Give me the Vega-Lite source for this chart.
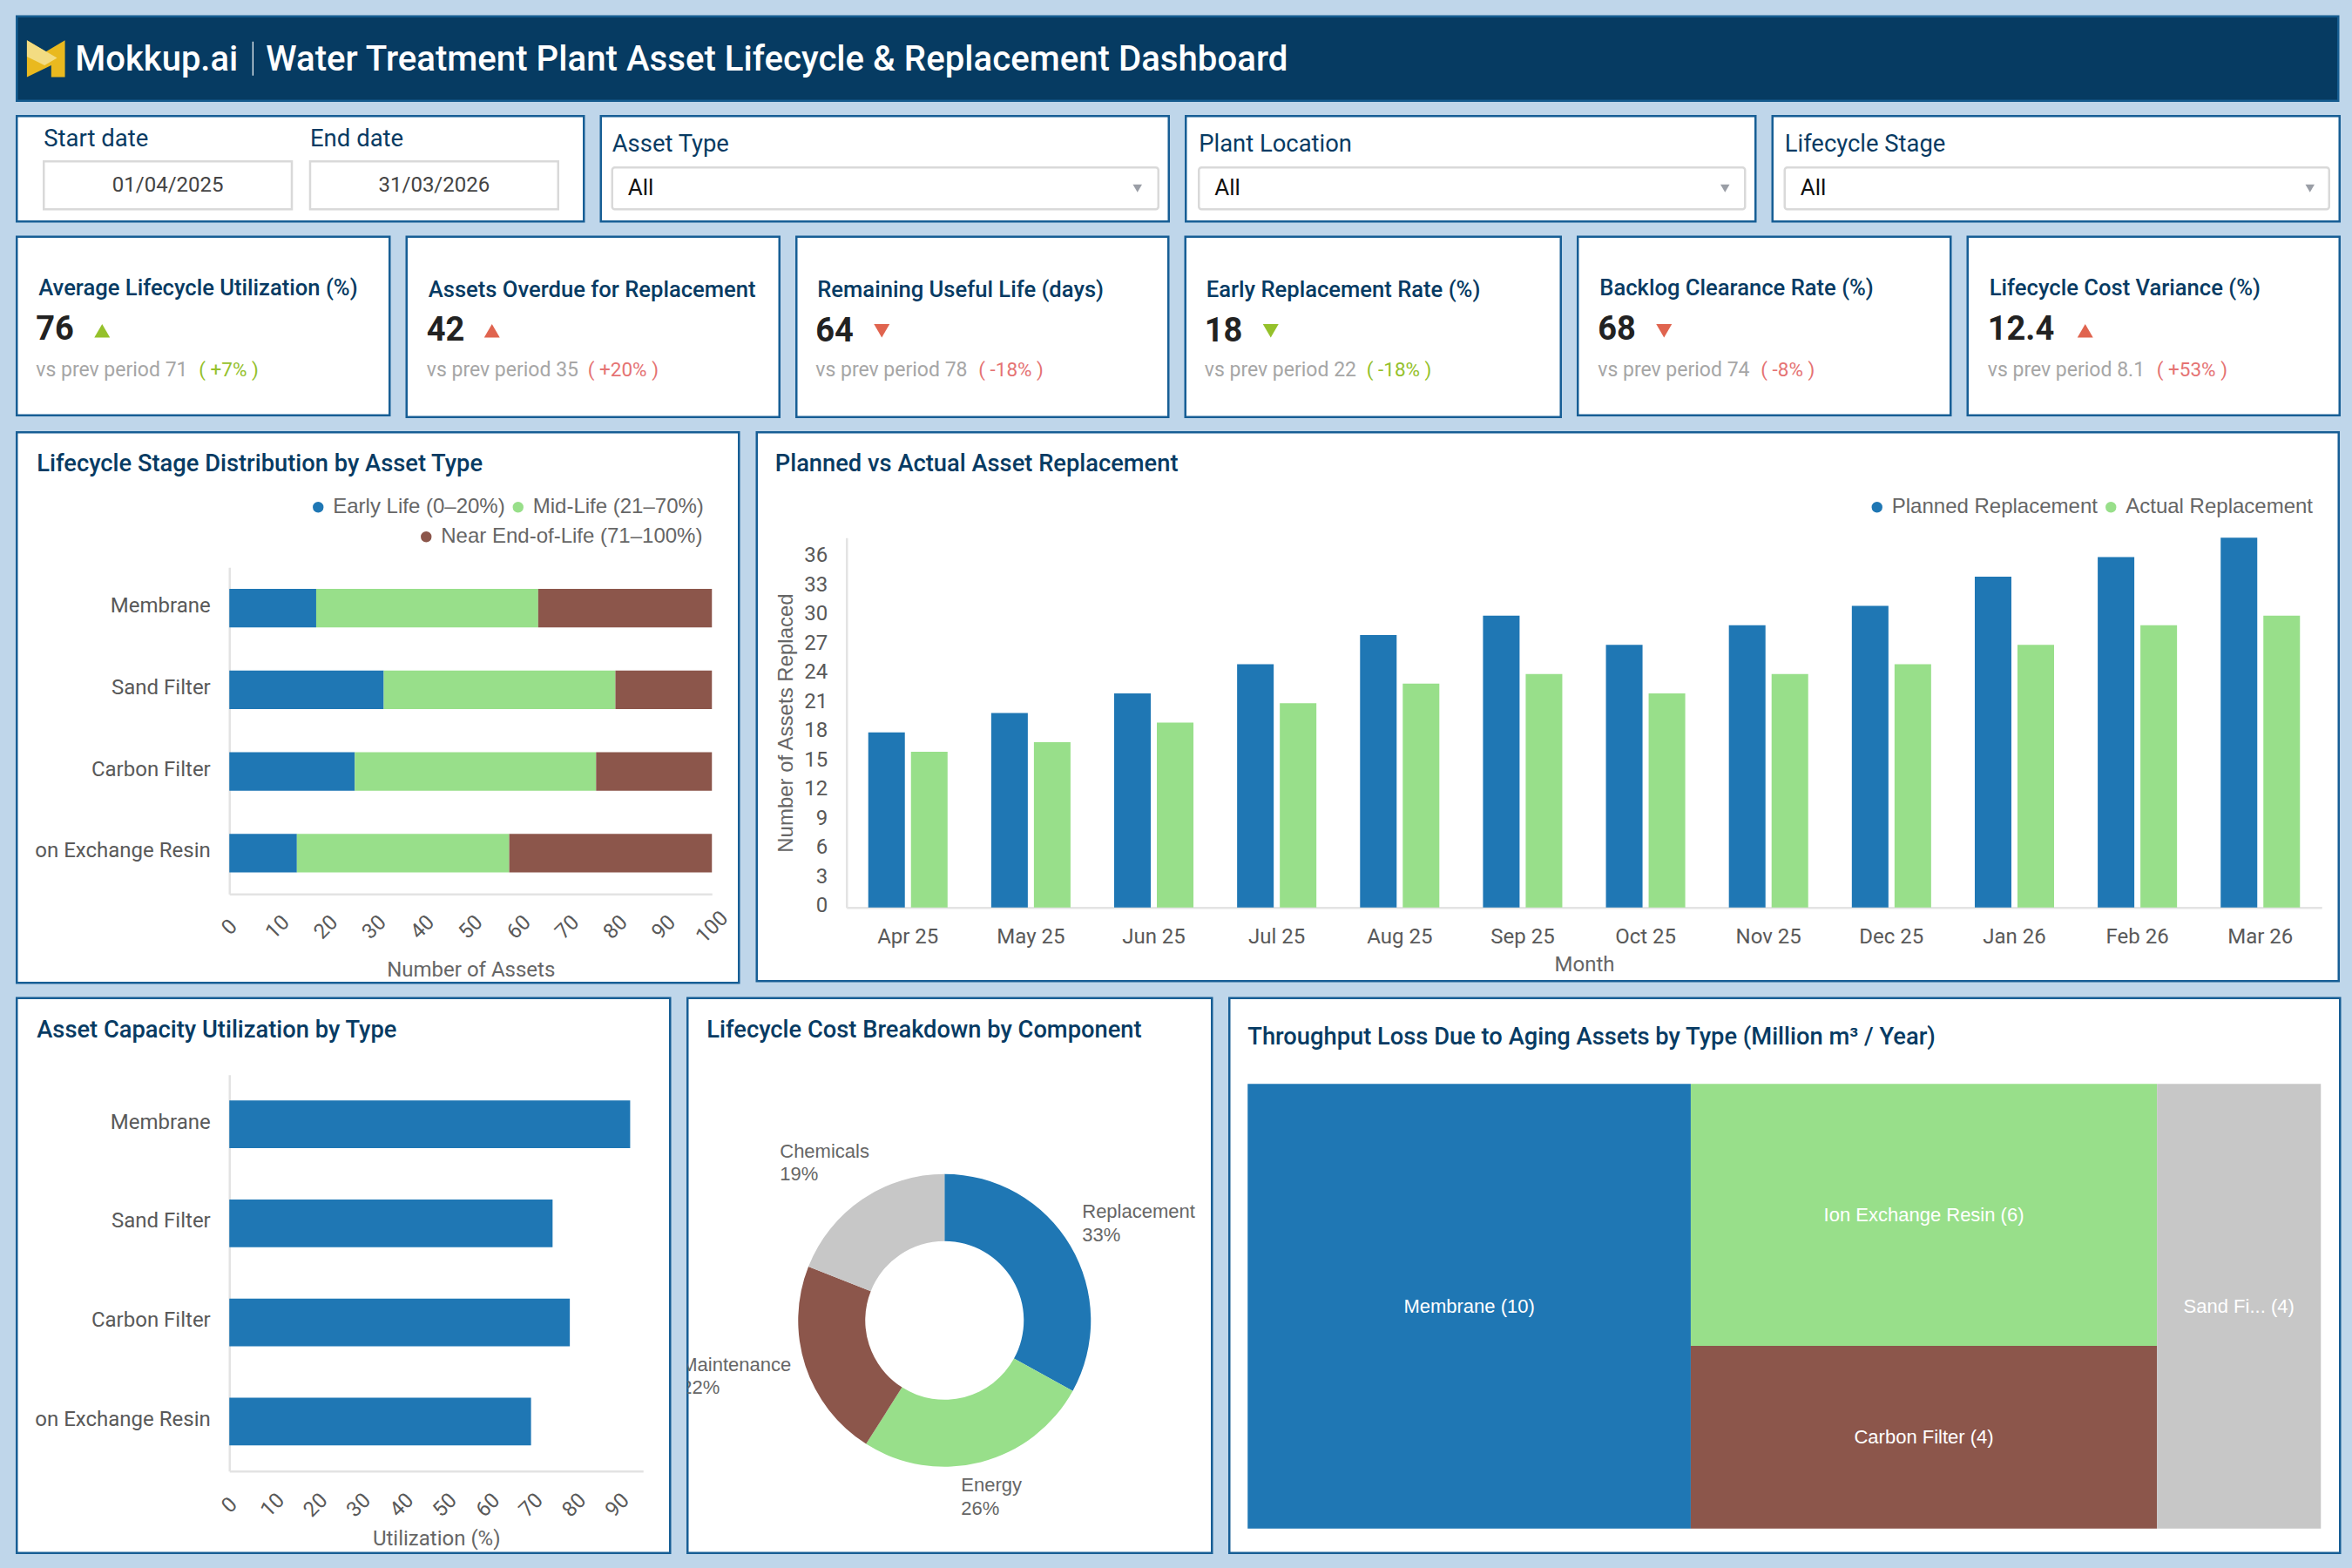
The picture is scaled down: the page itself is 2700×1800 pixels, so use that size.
{
  "$schema": "https://vega.github.io/schema/vega-lite/v6.json",
  "background": "#bfd6ea",
  "padding": {"left": 17.25, "top": 16.75, "right": 12.25, "bottom": 16.5},
  "config": {
    "view": {"fill": "#ffffff", "stroke": "#175e95", "strokeWidth": 2.5},
    "axis": {"grid": false, "ticks": false, "tickSize": 0, "domainColor": "#e3e3e3", "domainWidth": 2.5, "labelFont": "Roboto", "labelFontSize": 24, "labelColor": "#595959", "titleFont": "Roboto", "titleFontSize": 24, "titleFontWeight": "normal", "titleColor": "#666666"},
    "title": {"font": "Roboto", "fontSize": 27.3, "fontWeight": 500, "color": "#073b63", "anchor": "start", "frame": "group", "baseline": "middle"},
    "legend": {"orient": "none", "direction": "horizontal", "title": null, "symbolType": "circle", "symbolSize": 154, "labelFont": "Liberation Sans", "labelFontSize": 24, "labelColor": "#666666", "labelOffset": 5, "labelLimit": 500, "columnPadding": 2.5, "padding": 0}
  },
  "spacing": 13.5,
  "resolve": {"scale": {"color": "independent"}, "legend": {"color": "independent"}},
  "vconcat": [
    {
      "width": 2665,
      "height": 97,
      "view": {"fill": "#063b62", "stroke": "#155c90", "strokeWidth": 2.5},
      "data": {"values": [{"brand": "Mokkup.ai", "report": "Water Treatment Plant Asset Lifecycle & Replacement Dashboard"}]},
      "resolve": {"scale": {"x": "independent", "y": "independent"}},
      "layer": [
        {
          "mark": {"type": "point", "filled": true, "opacity": 1, "color": "#e9b91f", "size": 2025, "shape": "M-0.97,-0.93L0,-0.36L0.97,-0.93L0.97,0.94L0.27,0.94L0.27,0.34L-0.97,0.94Z"},
          "encoding": {
            "x": {"field": "brand", "type": "nominal", "axis": null, "scale": {"type": "point", "range": [33.5, 33.5]}},
            "y": {"field": "brand", "type": "nominal", "axis": null, "scale": {"type": "point", "range": [48.5, 48.5]}}
          }
        },
        {
          "mark": {"type": "point", "filled": true, "opacity": 1, "color": "#f3dc82", "size": 2025, "shape": "M-0.97,-0.93L0.57,-0.03L-0.07,0.34L-0.97,-0.1Z"},
          "encoding": {
            "x": {"field": "brand", "type": "nominal", "axis": null, "scale": {"type": "point", "range": [33.5, 33.5]}},
            "y": {"field": "brand", "type": "nominal", "axis": null, "scale": {"type": "point", "range": [48.5, 48.5]}}
          }
        },
        {
          "mark": {"type": "text", "align": "left", "baseline": "middle", "font": "Roboto", "fontSize": 40, "fontWeight": 500, "color": "#ffffff"},
          "encoding": {
            "x": {"field": "brand", "type": "nominal", "axis": null, "scale": {"type": "point", "range": [67, 67]}},
            "y": {"field": "brand", "type": "nominal", "axis": null, "scale": {"type": "point", "range": [50, 50]}},
            "text": {"field": "brand"}
          }
        },
        {
          "mark": {"type": "rect", "color": "#ffffff"},
          "encoding": {
            "x": {"field": "brand", "type": "nominal", "axis": null, "scale": {"type": "band", "padding": 0, "range": [270.5, 271.7]}},
            "y": {"field": "brand", "type": "nominal", "axis": null, "scale": {"type": "band", "padding": 0, "range": [29, 68]}}
          }
        },
        {
          "mark": {"type": "text", "align": "left", "baseline": "middle", "font": "Roboto", "fontSize": 40.2, "fontWeight": 500, "color": "#ffffff"},
          "encoding": {
            "x": {"field": "report", "type": "nominal", "axis": null, "scale": {"type": "point", "range": [286, 286]}},
            "y": {"field": "report", "type": "nominal", "axis": null, "scale": {"type": "point", "range": [50, 50]}},
            "text": {"field": "report"}
          }
        }
      ]
    },
    {
      "spacing": 15.5,
      "hconcat": [
        {
          "width": 651,
          "height": 121,
          "data": {"values": [
            {"control": "Start date", "date": "01/04/2025", "box": "date"},
            {"control": "End date", "date": "31/03/2026", "box": "date"}
          ]},
          "encoding": {
            "x": {"field": "control", "type": "nominal", "axis": null, "sort": null, "scale": {"type": "band", "paddingInner": 0.0686, "paddingOuter": 0, "range": [31, 621.5]}}
          },
          "resolve": {"scale": {"y": "independent"}},
          "layer": [
            {
              "mark": {"type": "rect", "fill": "#ffffff", "stroke": "#d9d9d9", "strokeWidth": 2.5},
              "encoding": {"y": {"field": "box", "type": "nominal", "axis": null, "scale": {"type": "band", "padding": 0, "range": [52, 107]}}}
            },
            {
              "mark": {"type": "text", "baseline": "middle", "font": "Roboto", "fontSize": 24, "color": "#444444"},
              "encoding": {
                "y": {"field": "box", "type": "nominal", "axis": null, "scale": {"type": "point", "range": [80, 80]}},
                "text": {"field": "date"}
              }
            },
            {
              "mark": {"type": "text", "align": "left", "baseline": "middle", "font": "Roboto", "fontSize": 27.5, "color": "#073b63"},
              "encoding": {
                "x": {"field": "control", "type": "nominal", "bandPosition": 0},
                "y": {"field": "box", "type": "nominal", "axis": null, "scale": {"type": "point", "range": [27, 27]}},
                "text": {"field": "control"}
              }
            }
          ]
        },
        {
          "width": 652,
          "height": 121,
          "data": {"values": [{"control": "Asset Type", "selected": "All"}]},
          "resolve": {"scale": {"x": "independent", "y": "independent"}},
          "layer": [
            {
              "mark": {"type": "rect", "fill": "#ffffff", "stroke": "#d9d9d9", "strokeWidth": 2.5, "cornerRadius": 3},
              "encoding": {
                "x": {"field": "control", "type": "nominal", "axis": null, "scale": {"type": "band", "padding": 0, "range": [13, 640]}},
                "y": {"field": "control", "type": "nominal", "axis": null, "scale": {"type": "band", "padding": 0, "range": [59, 107]}}
              }
            },
            {
              "mark": {"type": "text", "align": "left", "baseline": "middle", "font": "Roboto", "fontSize": 27.4, "color": "#073b63"},
              "encoding": {
                "x": {"field": "control", "type": "nominal", "axis": null, "scale": {"type": "point", "range": [13, 13]}},
                "y": {"field": "control", "type": "nominal", "axis": null, "scale": {"type": "point", "range": [33, 33]}},
                "text": {"field": "control"}
              }
            },
            {
              "mark": {"type": "text", "align": "left", "baseline": "middle", "font": "Roboto", "fontSize": 26, "color": "#111111"},
              "encoding": {
                "x": {"field": "control", "type": "nominal", "axis": null, "scale": {"type": "point", "range": [31, 31]}},
                "y": {"field": "control", "type": "nominal", "axis": null, "scale": {"type": "point", "range": [83, 83]}},
                "text": {"field": "selected"}
              }
            },
            {
              "mark": {"type": "point", "filled": true, "opacity": 1, "shape": "triangle-down", "size": 110, "color": "#9a9ea6"},
              "encoding": {
                "x": {"field": "control", "type": "nominal", "axis": null, "scale": {"type": "point", "range": [616, 616]}},
                "y": {"field": "control", "type": "nominal", "axis": null, "scale": {"type": "point", "range": [83, 83]}}
              }
            }
          ]
        },
        {
          "width": 654,
          "height": 121,
          "data": {"values": [{"control": "Plant Location", "selected": "All"}]},
          "resolve": {"scale": {"x": "independent", "y": "independent"}},
          "layer": [
            {
              "mark": {"type": "rect", "fill": "#ffffff", "stroke": "#d9d9d9", "strokeWidth": 2.5, "cornerRadius": 3},
              "encoding": {
                "x": {"field": "control", "type": "nominal", "axis": null, "scale": {"type": "band", "padding": 0, "range": [15, 642]}},
                "y": {"field": "control", "type": "nominal", "axis": null, "scale": {"type": "band", "padding": 0, "range": [59, 107]}}
              }
            },
            {
              "mark": {"type": "text", "align": "left", "baseline": "middle", "font": "Roboto", "fontSize": 27.4, "color": "#073b63"},
              "encoding": {
                "x": {"field": "control", "type": "nominal", "axis": null, "scale": {"type": "point", "range": [15, 15]}},
                "y": {"field": "control", "type": "nominal", "axis": null, "scale": {"type": "point", "range": [33, 33]}},
                "text": {"field": "control"}
              }
            },
            {
              "mark": {"type": "text", "align": "left", "baseline": "middle", "font": "Roboto", "fontSize": 26, "color": "#111111"},
              "encoding": {
                "x": {"field": "control", "type": "nominal", "axis": null, "scale": {"type": "point", "range": [33, 33]}},
                "y": {"field": "control", "type": "nominal", "axis": null, "scale": {"type": "point", "range": [83, 83]}},
                "text": {"field": "selected"}
              }
            },
            {
              "mark": {"type": "point", "filled": true, "opacity": 1, "shape": "triangle-down", "size": 110, "color": "#9a9ea6"},
              "encoding": {
                "x": {"field": "control", "type": "nominal", "axis": null, "scale": {"type": "point", "range": [619, 619]}},
                "y": {"field": "control", "type": "nominal", "axis": null, "scale": {"type": "point", "range": [83, 83]}}
              }
            }
          ]
        },
        {
          "width": 651,
          "height": 121,
          "data": {"values": [{"control": "Lifecycle Stage", "selected": "All"}]},
          "resolve": {"scale": {"x": "independent", "y": "independent"}},
          "layer": [
            {
              "mark": {"type": "rect", "fill": "#ffffff", "stroke": "#d9d9d9", "strokeWidth": 2.5, "cornerRadius": 3},
              "encoding": {
                "x": {"field": "control", "type": "nominal", "axis": null, "scale": {"type": "band", "padding": 0, "range": [14, 639]}},
                "y": {"field": "control", "type": "nominal", "axis": null, "scale": {"type": "band", "padding": 0, "range": [59, 107]}}
              }
            },
            {
              "mark": {"type": "text", "align": "left", "baseline": "middle", "font": "Roboto", "fontSize": 27.4, "color": "#073b63"},
              "encoding": {
                "x": {"field": "control", "type": "nominal", "axis": null, "scale": {"type": "point", "range": [14, 14]}},
                "y": {"field": "control", "type": "nominal", "axis": null, "scale": {"type": "point", "range": [33, 33]}},
                "text": {"field": "control"}
              }
            },
            {
              "mark": {"type": "text", "align": "left", "baseline": "middle", "font": "Roboto", "fontSize": 26, "color": "#111111"},
              "encoding": {
                "x": {"field": "control", "type": "nominal", "axis": null, "scale": {"type": "point", "range": [32, 32]}},
                "y": {"field": "control", "type": "nominal", "axis": null, "scale": {"type": "point", "range": [83, 83]}},
                "text": {"field": "selected"}
              }
            },
            {
              "mark": {"type": "point", "filled": true, "opacity": 1, "shape": "triangle-down", "size": 110, "color": "#9a9ea6"},
              "encoding": {
                "x": {"field": "control", "type": "nominal", "axis": null, "scale": {"type": "point", "range": [617, 617]}},
                "y": {"field": "control", "type": "nominal", "axis": null, "scale": {"type": "point", "range": [83, 83]}}
              }
            }
          ]
        }
      ]
    },
    {
      "spacing": 15.5,
      "hconcat": [
        {
          "width": 428,
          "height": 205,
          "data": {"values": [{"kpi": "Average Lifecycle Utilization (%)", "value": "76", "previous": "vs prev period 71", "delta": "( +7% )"}]},
          "resolve": {"scale": {"x": "independent", "y": "independent"}},
          "layer": [
            {"mark": {"type": "text", "align": "left", "baseline": "middle", "font": "Roboto", "fontSize": 25.6, "fontWeight": 500, "color": "#073b63"}, "encoding": {"x": {"field": "kpi", "type": "nominal", "axis": null, "scale": {"type": "point", "range": [25, 25]}}, "y": {"field": "kpi", "type": "nominal", "axis": null, "scale": {"type": "point", "range": [59, 59]}}, "text": {"field": "kpi"}}},
            {"mark": {"type": "text", "align": "left", "baseline": "middle", "font": "Roboto", "fontSize": 38, "fontWeight": 700, "color": "#222222"}, "encoding": {"x": {"field": "kpi", "type": "nominal", "axis": null, "scale": {"type": "point", "range": [22, 22]}}, "y": {"field": "kpi", "type": "nominal", "axis": null, "scale": {"type": "point", "range": [107, 107]}}, "text": {"field": "value"}}},
            {"mark": {"type": "point", "filled": true, "opacity": 1, "shape": "triangle-up", "size": 324, "color": "#95c12b"}, "encoding": {"x": {"field": "kpi", "type": "nominal", "axis": null, "scale": {"type": "point", "range": [98, 98]}}, "y": {"field": "kpi", "type": "nominal", "axis": null, "scale": {"type": "point", "range": [108, 108]}}}},
            {"mark": {"type": "text", "align": "left", "baseline": "middle", "font": "Roboto", "fontSize": 23, "color": "#a6a6a6"}, "encoding": {"x": {"field": "kpi", "type": "nominal", "axis": null, "scale": {"type": "point", "range": [22, 22]}}, "y": {"field": "kpi", "type": "nominal", "axis": null, "scale": {"type": "point", "range": [153, 153]}}, "text": {"field": "previous"}}},
            {"mark": {"type": "text", "align": "left", "baseline": "middle", "font": "Roboto", "fontSize": 22.5, "color": "#95c12b"}, "encoding": {"x": {"field": "kpi", "type": "nominal", "axis": null, "scale": {"type": "point", "range": [209, 209]}}, "y": {"field": "kpi", "type": "nominal", "axis": null, "scale": {"type": "point", "range": [153, 153]}}, "text": {"field": "delta"}}}
          ]
        },
        {
          "width": 428,
          "height": 207,
          "data": {"values": [{"kpi": "Assets Overdue for Replacement", "value": "42", "previous": "vs prev period 35", "delta": "( +20% )"}]},
          "resolve": {"scale": {"x": "independent", "y": "independent"}},
          "layer": [
            {"mark": {"type": "text", "align": "left", "baseline": "middle", "font": "Roboto", "fontSize": 25.6, "fontWeight": 500, "color": "#073b63"}, "encoding": {"x": {"field": "kpi", "type": "nominal", "axis": null, "scale": {"type": "point", "range": [25, 25]}}, "y": {"field": "kpi", "type": "nominal", "axis": null, "scale": {"type": "point", "range": [61, 61]}}, "text": {"field": "kpi"}}},
            {"mark": {"type": "text", "align": "left", "baseline": "middle", "font": "Roboto", "fontSize": 38, "fontWeight": 700, "color": "#222222"}, "encoding": {"x": {"field": "kpi", "type": "nominal", "axis": null, "scale": {"type": "point", "range": [23, 23]}}, "y": {"field": "kpi", "type": "nominal", "axis": null, "scale": {"type": "point", "range": [108, 108]}}, "text": {"field": "value"}}},
            {"mark": {"type": "point", "filled": true, "opacity": 1, "shape": "triangle-up", "size": 324, "color": "#e0644f"}, "encoding": {"x": {"field": "kpi", "type": "nominal", "axis": null, "scale": {"type": "point", "range": [98, 98]}}, "y": {"field": "kpi", "type": "nominal", "axis": null, "scale": {"type": "point", "range": [108, 108]}}}},
            {"mark": {"type": "text", "align": "left", "baseline": "middle", "font": "Roboto", "fontSize": 23, "color": "#a6a6a6"}, "encoding": {"x": {"field": "kpi", "type": "nominal", "axis": null, "scale": {"type": "point", "range": [23, 23]}}, "y": {"field": "kpi", "type": "nominal", "axis": null, "scale": {"type": "point", "range": [153, 153]}}, "text": {"field": "previous"}}},
            {"mark": {"type": "text", "align": "left", "baseline": "middle", "font": "Roboto", "fontSize": 22.5, "color": "#e57373"}, "encoding": {"x": {"field": "kpi", "type": "nominal", "axis": null, "scale": {"type": "point", "range": [208, 208]}}, "y": {"field": "kpi", "type": "nominal", "axis": null, "scale": {"type": "point", "range": [153, 153]}}, "text": {"field": "delta"}}}
          ]
        },
        {
          "width": 427,
          "height": 207,
          "data": {"values": [{"kpi": "Remaining Useful Life (days)", "value": "64", "previous": "vs prev period 78", "delta": "( -18% )"}]},
          "resolve": {"scale": {"x": "independent", "y": "independent"}},
          "layer": [
            {"mark": {"type": "text", "align": "left", "baseline": "middle", "font": "Roboto", "fontSize": 25.6, "fontWeight": 500, "color": "#073b63"}, "encoding": {"x": {"field": "kpi", "type": "nominal", "axis": null, "scale": {"type": "point", "range": [24, 24]}}, "y": {"field": "kpi", "type": "nominal", "axis": null, "scale": {"type": "point", "range": [61, 61]}}, "text": {"field": "kpi"}}},
            {"mark": {"type": "text", "align": "left", "baseline": "middle", "font": "Roboto", "fontSize": 38, "fontWeight": 700, "color": "#222222"}, "encoding": {"x": {"field": "kpi", "type": "nominal", "axis": null, "scale": {"type": "point", "range": [22, 22]}}, "y": {"field": "kpi", "type": "nominal", "axis": null, "scale": {"type": "point", "range": [109, 109]}}, "text": {"field": "value"}}},
            {"mark": {"type": "point", "filled": true, "opacity": 1, "shape": "triangle-down", "size": 324, "color": "#e0644f"}, "encoding": {"x": {"field": "kpi", "type": "nominal", "axis": null, "scale": {"type": "point", "range": [98, 98]}}, "y": {"field": "kpi", "type": "nominal", "axis": null, "scale": {"type": "point", "range": [108, 108]}}}},
            {"mark": {"type": "text", "align": "left", "baseline": "middle", "font": "Roboto", "fontSize": 23, "color": "#a6a6a6"}, "encoding": {"x": {"field": "kpi", "type": "nominal", "axis": null, "scale": {"type": "point", "range": [22, 22]}}, "y": {"field": "kpi", "type": "nominal", "axis": null, "scale": {"type": "point", "range": [153, 153]}}, "text": {"field": "previous"}}},
            {"mark": {"type": "text", "align": "left", "baseline": "middle", "font": "Roboto", "fontSize": 22.5, "color": "#e57373"}, "encoding": {"x": {"field": "kpi", "type": "nominal", "axis": null, "scale": {"type": "point", "range": [209, 209]}}, "y": {"field": "kpi", "type": "nominal", "axis": null, "scale": {"type": "point", "range": [153, 153]}}, "text": {"field": "delta"}}}
          ]
        },
        {
          "width": 431,
          "height": 207,
          "data": {"values": [{"kpi": "Early Replacement Rate (%)", "value": "18", "previous": "vs prev period 22", "delta": "( -18% )"}]},
          "resolve": {"scale": {"x": "independent", "y": "independent"}},
          "layer": [
            {"mark": {"type": "text", "align": "left", "baseline": "middle", "font": "Roboto", "fontSize": 25.6, "fontWeight": 500, "color": "#073b63"}, "encoding": {"x": {"field": "kpi", "type": "nominal", "axis": null, "scale": {"type": "point", "range": [24, 24]}}, "y": {"field": "kpi", "type": "nominal", "axis": null, "scale": {"type": "point", "range": [61, 61]}}, "text": {"field": "kpi"}}},
            {"mark": {"type": "text", "align": "left", "baseline": "middle", "font": "Roboto", "fontSize": 38, "fontWeight": 700, "color": "#222222"}, "encoding": {"x": {"field": "kpi", "type": "nominal", "axis": null, "scale": {"type": "point", "range": [22, 22]}}, "y": {"field": "kpi", "type": "nominal", "axis": null, "scale": {"type": "point", "range": [109, 109]}}, "text": {"field": "value"}}},
            {"mark": {"type": "point", "filled": true, "opacity": 1, "shape": "triangle-down", "size": 324, "color": "#95c12b"}, "encoding": {"x": {"field": "kpi", "type": "nominal", "axis": null, "scale": {"type": "point", "range": [98, 98]}}, "y": {"field": "kpi", "type": "nominal", "axis": null, "scale": {"type": "point", "range": [108, 108]}}}},
            {"mark": {"type": "text", "align": "left", "baseline": "middle", "font": "Roboto", "fontSize": 23, "color": "#a6a6a6"}, "encoding": {"x": {"field": "kpi", "type": "nominal", "axis": null, "scale": {"type": "point", "range": [22, 22]}}, "y": {"field": "kpi", "type": "nominal", "axis": null, "scale": {"type": "point", "range": [153, 153]}}, "text": {"field": "previous"}}},
            {"mark": {"type": "text", "align": "left", "baseline": "middle", "font": "Roboto", "fontSize": 22.5, "color": "#95c12b"}, "encoding": {"x": {"field": "kpi", "type": "nominal", "axis": null, "scale": {"type": "point", "range": [208, 208]}}, "y": {"field": "kpi", "type": "nominal", "axis": null, "scale": {"type": "point", "range": [153, 153]}}, "text": {"field": "delta"}}}
          ]
        },
        {
          "width": 428,
          "height": 205,
          "data": {"values": [{"kpi": "Backlog Clearance Rate (%)", "value": "68", "previous": "vs prev period 74", "delta": "( -8% )"}]},
          "resolve": {"scale": {"x": "independent", "y": "independent"}},
          "layer": [
            {"mark": {"type": "text", "align": "left", "baseline": "middle", "font": "Roboto", "fontSize": 25.6, "fontWeight": 500, "color": "#073b63"}, "encoding": {"x": {"field": "kpi", "type": "nominal", "axis": null, "scale": {"type": "point", "range": [25, 25]}}, "y": {"field": "kpi", "type": "nominal", "axis": null, "scale": {"type": "point", "range": [59, 59]}}, "text": {"field": "kpi"}}},
            {"mark": {"type": "text", "align": "left", "baseline": "middle", "font": "Roboto", "fontSize": 38, "fontWeight": 700, "color": "#222222"}, "encoding": {"x": {"field": "kpi", "type": "nominal", "axis": null, "scale": {"type": "point", "range": [23, 23]}}, "y": {"field": "kpi", "type": "nominal", "axis": null, "scale": {"type": "point", "range": [107, 107]}}, "text": {"field": "value"}}},
            {"mark": {"type": "point", "filled": true, "opacity": 1, "shape": "triangle-down", "size": 324, "color": "#e0644f"}, "encoding": {"x": {"field": "kpi", "type": "nominal", "axis": null, "scale": {"type": "point", "range": [99, 99]}}, "y": {"field": "kpi", "type": "nominal", "axis": null, "scale": {"type": "point", "range": [108, 108]}}}},
            {"mark": {"type": "text", "align": "left", "baseline": "middle", "font": "Roboto", "fontSize": 23, "color": "#a6a6a6"}, "encoding": {"x": {"field": "kpi", "type": "nominal", "axis": null, "scale": {"type": "point", "range": [23, 23]}}, "y": {"field": "kpi", "type": "nominal", "axis": null, "scale": {"type": "point", "range": [153, 153]}}, "text": {"field": "previous"}}},
            {"mark": {"type": "text", "align": "left", "baseline": "middle", "font": "Roboto", "fontSize": 22.5, "color": "#e57373"}, "encoding": {"x": {"field": "kpi", "type": "nominal", "axis": null, "scale": {"type": "point", "range": [210, 210]}}, "y": {"field": "kpi", "type": "nominal", "axis": null, "scale": {"type": "point", "range": [153, 153]}}, "text": {"field": "delta"}}}
          ]
        },
        {
          "width": 427,
          "height": 205,
          "data": {"values": [{"kpi": "Lifecycle Cost Variance (%)", "value": "12.4", "previous": "vs prev period 8.1", "delta": "( +53% )"}]},
          "resolve": {"scale": {"x": "independent", "y": "independent"}},
          "layer": [
            {"mark": {"type": "text", "align": "left", "baseline": "middle", "font": "Roboto", "fontSize": 25.6, "fontWeight": 500, "color": "#073b63"}, "encoding": {"x": {"field": "kpi", "type": "nominal", "axis": null, "scale": {"type": "point", "range": [25, 25]}}, "y": {"field": "kpi", "type": "nominal", "axis": null, "scale": {"type": "point", "range": [59, 59]}}, "text": {"field": "kpi"}}},
            {"mark": {"type": "text", "align": "left", "baseline": "middle", "font": "Roboto", "fontSize": 38, "fontWeight": 700, "color": "#222222"}, "encoding": {"x": {"field": "kpi", "type": "nominal", "axis": null, "scale": {"type": "point", "range": [23, 23]}}, "y": {"field": "kpi", "type": "nominal", "axis": null, "scale": {"type": "point", "range": [107, 107]}}, "text": {"field": "value"}}},
            {"mark": {"type": "point", "filled": true, "opacity": 1, "shape": "triangle-up", "size": 324, "color": "#e0644f"}, "encoding": {"x": {"field": "kpi", "type": "nominal", "axis": null, "scale": {"type": "point", "range": [135, 135]}}, "y": {"field": "kpi", "type": "nominal", "axis": null, "scale": {"type": "point", "range": [108, 108]}}}},
            {"mark": {"type": "text", "align": "left", "baseline": "middle", "font": "Roboto", "fontSize": 23, "color": "#a6a6a6"}, "encoding": {"x": {"field": "kpi", "type": "nominal", "axis": null, "scale": {"type": "point", "range": [23, 23]}}, "y": {"field": "kpi", "type": "nominal", "axis": null, "scale": {"type": "point", "range": [153, 153]}}, "text": {"field": "previous"}}},
            {"mark": {"type": "text", "align": "left", "baseline": "middle", "font": "Roboto", "fontSize": 22.5, "color": "#e57373"}, "encoding": {"x": {"field": "kpi", "type": "nominal", "axis": null, "scale": {"type": "point", "range": [217, 217]}}, "y": {"field": "kpi", "type": "nominal", "axis": null, "scale": {"type": "point", "range": [153, 153]}}, "text": {"field": "delta"}}}
          ]
        }
      ]
    },
    {
      "spacing": 16.5,
      "resolve": {"scale": {"color": "independent"}, "legend": {"color": "independent"}},
      "hconcat": [
        {
          "width": 829,
          "height": 632,
          "title": {"text": "Lifecycle Stage Distribution by Asset Type", "offset": -50, "dx": 23},
          "data": {"values": [
            {"asset": "Membrane", "stage": "Early Life (0–20%)", "rank": 1, "assets": 18},
            {"asset": "Membrane", "stage": "Mid-Life (21–70%)", "rank": 2, "assets": 46},
            {"asset": "Membrane", "stage": "Near End-of-Life (71–100%)", "rank": 3, "assets": 36},
            {"asset": "Sand Filter", "stage": "Early Life (0–20%)", "rank": 1, "assets": 32},
            {"asset": "Sand Filter", "stage": "Mid-Life (21–70%)", "rank": 2, "assets": 48},
            {"asset": "Sand Filter", "stage": "Near End-of-Life (71–100%)", "rank": 3, "assets": 20},
            {"asset": "Carbon Filter", "stage": "Early Life (0–20%)", "rank": 1, "assets": 26},
            {"asset": "Carbon Filter", "stage": "Mid-Life (21–70%)", "rank": 2, "assets": 50},
            {"asset": "Carbon Filter", "stage": "Near End-of-Life (71–100%)", "rank": 3, "assets": 24},
            {"asset": "Ion Exchange Resin", "stage": "Early Life (0–20%)", "rank": 1, "assets": 14},
            {"asset": "Ion Exchange Resin", "stage": "Mid-Life (21–70%)", "rank": 2, "assets": 44},
            {"asset": "Ion Exchange Resin", "stage": "Near End-of-Life (71–100%)", "rank": 3, "assets": 42}
          ]},
          "transform": [{"stack": "assets", "groupby": ["asset"], "sort": [{"field": "rank", "order": "ascending"}], "as": ["start", "end"]}],
          "encoding": {
            "x": {"field": "start", "type": "quantitative", "scale": {"domain": [0, 100], "nice": false, "range": [244, 798]}, "axis": {"title": "Number of Assets", "orient": "bottom", "offset": -102, "values": [0, 10, 20, 30, 40, 50, 60, 70, 80, 90, 100], "labelAngle": -45, "labelAlign": "center", "labelBaseline": "middle", "labelPadding": 38, "titlePadding": 14, "labelFlush": false, "labelOverlap": false}},
            "x2": {"field": "end"},
            "y": {"field": "asset", "type": "nominal", "sort": null, "scale": {"domain": ["Membrane", "Sand Filter", "Carbon Filter", "Ion Exchange Resin"], "paddingInner": 0.53, "paddingOuter": 0.265, "range": [155, 530]}, "axis": {"title": null, "orient": "left", "offset": -244, "labelPadding": 22, "labelLimit": 400, "labelOffset": -2, "labelExpr": "datum.label === 'Ion Exchange Resin' ? 'on Exchange Resin' : datum.label"}}
          },
          "resolve": {"scale": {"color": "independent"}, "legend": {"color": "independent"}},
          "layer": [
            {
              "transform": [{"filter": "datum.rank < 3"}],
              "mark": {"type": "bar"},
              "encoding": {"color": {"field": "stage", "type": "nominal", "scale": {"domain": ["Early Life (0–20%)", "Mid-Life (21–70%)"], "range": ["#1f77b4", "#98df8a"]}, "legend": {"legendX": 334, "legendY": 74}}}
            },
            {
              "transform": [{"filter": "datum.rank == 3"}],
              "mark": {"type": "bar"},
              "encoding": {"color": {"field": "stage", "type": "nominal", "scale": {"domain": ["Near End-of-Life (71–100%)"], "range": ["#8c564b"]}, "legend": {"legendX": 458, "legendY": 108}}}
            }
          ]
        },
        {
          "width": 1816,
          "height": 630,
          "title": {"text": "Planned vs Actual Asset Replacement", "offset": -50, "dx": 21},
          "data": {"values": [
            {"month": "Apr 25", "series": "Planned Replacement", "assets": 18},
            {"month": "Apr 25", "series": "Actual Replacement", "assets": 16},
            {"month": "May 25", "series": "Planned Replacement", "assets": 20},
            {"month": "May 25", "series": "Actual Replacement", "assets": 17},
            {"month": "Jun 25", "series": "Planned Replacement", "assets": 22},
            {"month": "Jun 25", "series": "Actual Replacement", "assets": 19},
            {"month": "Jul 25", "series": "Planned Replacement", "assets": 25},
            {"month": "Jul 25", "series": "Actual Replacement", "assets": 21},
            {"month": "Aug 25", "series": "Planned Replacement", "assets": 28},
            {"month": "Aug 25", "series": "Actual Replacement", "assets": 23},
            {"month": "Sep 25", "series": "Planned Replacement", "assets": 30},
            {"month": "Sep 25", "series": "Actual Replacement", "assets": 24},
            {"month": "Oct 25", "series": "Planned Replacement", "assets": 27},
            {"month": "Oct 25", "series": "Actual Replacement", "assets": 22},
            {"month": "Nov 25", "series": "Planned Replacement", "assets": 29},
            {"month": "Nov 25", "series": "Actual Replacement", "assets": 24},
            {"month": "Dec 25", "series": "Planned Replacement", "assets": 31},
            {"month": "Dec 25", "series": "Actual Replacement", "assets": 25},
            {"month": "Jan 26", "series": "Planned Replacement", "assets": 34},
            {"month": "Jan 26", "series": "Actual Replacement", "assets": 27},
            {"month": "Feb 26", "series": "Planned Replacement", "assets": 36},
            {"month": "Feb 26", "series": "Actual Replacement", "assets": 29},
            {"month": "Mar 26", "series": "Planned Replacement", "assets": 38},
            {"month": "Mar 26", "series": "Actual Replacement", "assets": 30}
          ]},
          "mark": {"type": "bar"},
          "encoding": {
            "x": {"field": "month", "type": "nominal", "sort": null, "scale": {"paddingInner": 0.355, "paddingOuter": 0.177, "range": [103, 1796.5]}, "axis": {"title": "Month", "orient": "bottom", "offset": -84.4, "labelAngle": 0, "labelBaseline": "middle", "labelPadding": 34, "titlePadding": 8}},
            "xOffset": {"field": "series", "type": "nominal", "sort": null, "scale": {"domain": ["Planned Replacement", "Actual Replacement"], "paddingInner": 0.143}},
            "y": {"field": "assets", "type": "quantitative", "scale": {"domain": [0, 38], "nice": false, "range": [545.6, 121]}, "axis": {"title": "Number of Assets Replaced", "titleFont": "Liberation Sans", "orient": "left", "offset": -103, "values": [0, 3, 6, 9, 12, 15, 18, 21, 24, 27, 30, 33, 36], "labelPadding": 22, "labelOffset": -2, "titlePadding": 8}},
            "color": {"field": "series", "type": "nominal", "scale": {"domain": ["Planned Replacement", "Actual Replacement"], "range": ["#1f77b4", "#98df8a"]}, "legend": {"legendX": 1274, "legendY": 74}}
          }
        }
      ]
    },
    {
      "spacing": 16,
      "resolve": {"scale": {"color": "independent"}, "legend": {"color": "independent"}},
      "hconcat": [
        {
          "width": 750,
          "height": 637,
          "title": {"text": "Asset Capacity Utilization by Type", "offset": -51, "dx": 23},
          "data": {"values": [
            {"asset": "Membrane", "utilization": 93},
            {"asset": "Sand Filter", "utilization": 75},
            {"asset": "Carbon Filter", "utilization": 79},
            {"asset": "Ion Exchange Resin", "utilization": 70}
          ]},
          "mark": {"type": "bar", "color": "#1f77b4"},
          "encoding": {
            "x": {"field": "utilization", "type": "quantitative", "scale": {"domain": [0, 96], "nice": false, "range": [244, 719]}, "axis": {"title": "Utilization (%)", "orient": "bottom", "offset": -94, "values": [0, 10, 20, 30, 40, 50, 60, 70, 80, 90], "labelAngle": -45, "labelAlign": "center", "labelBaseline": "middle", "labelPadding": 39, "titlePadding": 8.5, "labelFlush": false, "labelOverlap": false}},
            "y": {"field": "asset", "type": "nominal", "sort": null, "scale": {"paddingInner": 0.52, "paddingOuter": 0.26, "range": [88, 543]}, "axis": {"title": null, "orient": "left", "offset": -244, "labelPadding": 22, "labelLimit": 400, "labelOffset": -2, "labelExpr": "datum.label === 'Ion Exchange Resin' ? 'on Exchange Resin' : datum.label"}}
          }
        },
        {
          "width": 602,
          "height": 637,
          "title": {"text": "Lifecycle Cost Breakdown by Component", "offset": -51, "dx": 22},
          "data": {"values": [
            {"component": "Replacement", "share": 33, "rank": 1, "label": "Replacement\n33%"},
            {"component": "Energy", "share": 26, "rank": 2, "label": "Energy\n26%"},
            {"component": "Maintenance", "share": 22, "rank": 3, "label": "Maintenance\n22%"},
            {"component": "Chemicals", "share": 19, "rank": 4, "label": "Chemicals\n19%"}
          ]},
          "transform": [{"joinaggregate": [{"op": "count", "as": "slices"}]}],
          "resolve": {"scale": {"x": "independent", "y": "independent"}},
          "layer": [
            {
              "mark": {"type": "arc", "innerRadius": 91, "outerRadius": 168},
              "encoding": {
                "x": {"field": "slices", "type": "nominal", "axis": null, "scale": {"type": "point", "range": [295, 295]}},
                "y": {"field": "slices", "type": "nominal", "axis": null, "scale": {"type": "point", "range": [370, 370]}},
                "theta": {"field": "share", "type": "quantitative", "stack": true},
                "order": {"field": "rank"},
                "color": {"field": "component", "type": "nominal", "legend": null, "scale": {"domain": ["Replacement", "Energy", "Maintenance", "Chemicals"], "range": ["#1f77b4", "#98df8a", "#8c564b", "#c7c7c7"]}}
              }
            },
            {
              "transform": [{"filter": "datum.component == 'Replacement'"}],
              "mark": {"type": "text", "align": "left", "baseline": "middle", "font": "Liberation Sans", "fontSize": 22, "lineBreak": "\n", "lineHeight": 26.5, "color": "#666666", "clip": true},
              "encoding": {
                "x": {"field": "component", "type": "nominal", "axis": null, "scale": {"type": "point", "range": [453, 453]}},
                "y": {"field": "component", "type": "nominal", "axis": null, "scale": {"type": "point", "range": [245.5, 245.5]}},
                "text": {"field": "label"}
              }
            },
            {
              "transform": [{"filter": "datum.component == 'Energy'"}],
              "mark": {"type": "text", "align": "left", "baseline": "middle", "font": "Liberation Sans", "fontSize": 22, "lineBreak": "\n", "lineHeight": 26.5, "color": "#666666", "clip": true},
              "encoding": {
                "x": {"field": "component", "type": "nominal", "axis": null, "scale": {"type": "point", "range": [314, 314]}},
                "y": {"field": "component", "type": "nominal", "axis": null, "scale": {"type": "point", "range": [559.5, 559.5]}},
                "text": {"field": "label"}
              }
            },
            {
              "transform": [{"filter": "datum.component == 'Maintenance'"}],
              "mark": {"type": "text", "align": "left", "baseline": "middle", "font": "Liberation Sans", "fontSize": 22, "lineBreak": "\n", "lineHeight": 26.5, "color": "#666666", "clip": true},
              "encoding": {
                "x": {"field": "component", "type": "nominal", "axis": null, "scale": {"type": "point", "range": [-7, -7]}},
                "y": {"field": "component", "type": "nominal", "axis": null, "scale": {"type": "point", "range": [421, 421]}},
                "text": {"field": "label"}
              }
            },
            {
              "transform": [{"filter": "datum.component == 'Chemicals'"}],
              "mark": {"type": "text", "align": "left", "baseline": "middle", "font": "Liberation Sans", "fontSize": 22, "lineBreak": "\n", "lineHeight": 26.5, "color": "#666666", "clip": true},
              "encoding": {
                "x": {"field": "component", "type": "nominal", "axis": null, "scale": {"type": "point", "range": [106, 106]}},
                "y": {"field": "component", "type": "nominal", "axis": null, "scale": {"type": "point", "range": [176, 176]}},
                "text": {"field": "label"}
              }
            }
          ]
        },
        {
          "width": 1275,
          "height": 637,
          "title": {"text": "Throughput Loss Due to Aging Assets by Type (Million m³ / Year)", "offset": -59, "dx": 21},
          "data": {"values": [
            {"asset": "Membrane", "group": "a", "rank": 1, "loss": 9.6, "label": "Membrane (10)"},
            {"asset": "Ion Exchange Resin", "group": "b", "rank": 2, "loss": 5.95, "label": "Ion Exchange Resin (6)"},
            {"asset": "Carbon Filter", "group": "b", "rank": 3, "loss": 4.15, "label": "Carbon Filter (4)"},
            {"asset": "Sand Filter", "group": "c", "rank": 4, "loss": 3.55, "label": "Sand Fi... (4)"}
          ]},
          "transform": [
            {"stack": "loss", "groupby": [], "sort": [{"field": "rank", "order": "ascending"}], "as": ["runStart", "runEnd"]},
            {"window": [{"op": "min", "field": "runStart", "as": "left"}, {"op": "max", "field": "runEnd", "as": "right"}], "groupby": ["group"], "frame": [null, null]},
            {"stack": "loss", "groupby": ["group"], "offset": "normalize", "sort": [{"field": "rank", "order": "ascending"}], "as": ["top", "bottom"]}
          ],
          "layer": [
            {
              "mark": {"type": "rect"},
              "encoding": {
                "x": {"field": "left", "type": "quantitative", "axis": null, "scale": {"domain": [0, 23.25], "nice": false, "range": [21, 1253]}},
                "x2": {"field": "right"},
                "y": {"field": "top", "type": "quantitative", "axis": null, "scale": {"domain": [0, 1], "nice": false, "range": [98.5, 609]}},
                "y2": {"field": "bottom"},
                "color": {"field": "asset", "type": "nominal", "legend": null, "scale": {"domain": ["Membrane", "Ion Exchange Resin", "Carbon Filter", "Sand Filter"], "range": ["#1f77b4", "#98df8a", "#8c564b", "#c7c7c7"]}}
              }
            },
            {
              "transform": [
                {"fold": ["left", "right"], "as": ["edgeX", "posX"]},
                {"aggregate": [{"op": "mean", "field": "posX", "as": "midX"}], "groupby": ["label", "top", "bottom"]},
                {"fold": ["top", "bottom"], "as": ["edgeY", "posY"]},
                {"aggregate": [{"op": "mean", "field": "posY", "as": "midY"}], "groupby": ["label", "midX"]}
              ],
              "mark": {"type": "text", "font": "Liberation Sans", "fontSize": 22, "color": "#ffffff", "baseline": "middle"},
              "encoding": {
                "x": {"field": "midX", "type": "quantitative", "axis": null, "scale": {"domain": [0, 23.25], "nice": false, "range": [21, 1253]}},
                "y": {"field": "midY", "type": "quantitative", "axis": null, "scale": {"domain": [0, 1], "nice": false, "range": [98.5, 609]}},
                "text": {"field": "label"}
              }
            }
          ]
        }
      ]
    }
  ]
}
